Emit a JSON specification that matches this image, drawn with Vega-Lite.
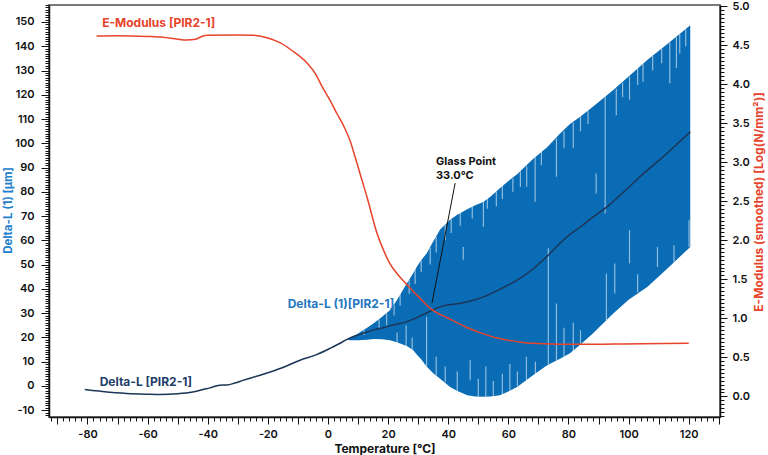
{
  "$schema": "https://vega.github.io/schema/vega-lite/v6.json",
  "width": 671,
  "height": 412,
  "autosize": {"type": "none"},
  "padding": {"left": 49, "top": 5, "right": 48, "bottom": 38},
  "background": "white",
  "config": {
    "font": "Inter",
    "view": {"stroke": "#4d4d4d", "strokeWidth": 1.5},
    "axis": {
      "grid": false,
      "domainColor": "#111",
      "domainWidth": 1.5,
      "tickColor": "#111",
      "tickWidth": 1,
      "labelFont": "Inter",
      "labelFontWeight": 600,
      "labelFontSize": 11,
      "labelColor": "#111",
      "labelOverlap": false,
      "labelBound": false,
      "labelFlush": false,
      "titleFont": "Inter",
      "titleFontWeight": 700,
      "titleFontSize": 12
    }
  },
  "datasets": {
    "band": [
      {"T": 6.2, "lo": 19.1, "hi": 19.1},
      {"T": 7.3, "lo": 18.8, "hi": 19.8},
      {"T": 10, "lo": 18.8, "hi": 21.6},
      {"T": 13, "lo": 19.0, "hi": 24},
      {"T": 15.1, "lo": 19.3, "hi": 25.7},
      {"T": 18, "lo": 19.2, "hi": 28.5},
      {"T": 20.6, "lo": 18.8, "hi": 31.2},
      {"T": 22.9, "lo": 18.0, "hi": 35.3},
      {"T": 26.2, "lo": 16.5, "hi": 42.2},
      {"T": 28.4, "lo": 14.7, "hi": 46.5},
      {"T": 29.5, "lo": 13.0, "hi": 49},
      {"T": 31, "lo": 11, "hi": 51.8},
      {"T": 32.8, "lo": 8, "hi": 54.6},
      {"T": 35, "lo": 5.2, "hi": 59.5},
      {"T": 37.3, "lo": 3.0, "hi": 64.5},
      {"T": 40.6, "lo": -0.4, "hi": 68.5},
      {"T": 42.9, "lo": -2.0, "hi": 70.5},
      {"T": 46.3, "lo": -3.8, "hi": 72.8},
      {"T": 49, "lo": -4.3, "hi": 74.5},
      {"T": 51.6, "lo": -4.5, "hi": 75.8},
      {"T": 54, "lo": -4.3, "hi": 78},
      {"T": 57.2, "lo": -3.8, "hi": 81.5},
      {"T": 60, "lo": -2.3, "hi": 84.5},
      {"T": 62.9, "lo": -0.4, "hi": 87.2},
      {"T": 68.2, "lo": 4.4, "hi": 93.5},
      {"T": 72.9, "lo": 8.5, "hi": 98.4},
      {"T": 77.2, "lo": 11.2, "hi": 104},
      {"T": 80.5, "lo": 13.5, "hi": 108},
      {"T": 83.9, "lo": 17, "hi": 110.9},
      {"T": 88, "lo": 21.5, "hi": 115},
      {"T": 94.8, "lo": 29.8, "hi": 121.9},
      {"T": 100, "lo": 35.5, "hi": 127.5},
      {"T": 106.2, "lo": 40.8, "hi": 134.3},
      {"T": 113, "lo": 48.5, "hi": 141},
      {"T": 120.5, "lo": 57.3, "hi": 148.7}
    ],
    "spikes": [
      {"T": 12, "top": 23, "bottom": 21},
      {"T": 17, "top": 27.5, "bottom": 24},
      {"T": 19.5, "top": 30, "bottom": 25},
      {"T": 22, "top": 33.5, "bottom": 29},
      {"T": 24, "top": 38, "bottom": 33},
      {"T": 27, "top": 44, "bottom": 38},
      {"T": 29, "top": 48, "bottom": 42},
      {"T": 31, "top": 51.8, "bottom": 47},
      {"T": 34, "top": 57, "bottom": 50},
      {"T": 36, "top": 61.5, "bottom": 55},
      {"T": 39, "top": 66.5, "bottom": 60},
      {"T": 41, "top": 68.8, "bottom": 63},
      {"T": 44, "top": 71.5, "bottom": 66},
      {"T": 45, "top": 57.3, "bottom": 52},
      {"T": 48, "top": 74, "bottom": 69},
      {"T": 51.7, "top": 76.6, "bottom": 65.6},
      {"T": 53, "top": 77.5, "bottom": 73},
      {"T": 56, "top": 80, "bottom": 74},
      {"T": 58, "top": 82.5, "bottom": 77},
      {"T": 61.5, "top": 85.5, "bottom": 80},
      {"T": 64, "top": 88.5, "bottom": 82},
      {"T": 66.1, "top": 90.5, "bottom": 82.1},
      {"T": 68.9, "top": 94.5, "bottom": 75.9},
      {"T": 71, "top": 96.5, "bottom": 91},
      {"T": 73.3, "top": 56.7, "bottom": 9},
      {"T": 76, "top": 102, "bottom": 86.2},
      {"T": 78.5, "top": 105, "bottom": 98},
      {"T": 81.6, "top": 108.5, "bottom": 98},
      {"T": 84, "top": 111, "bottom": 105},
      {"T": 86.5, "top": 113.5, "bottom": 108},
      {"T": 89.2, "top": 87.6, "bottom": 79.3},
      {"T": 92.2, "top": 119.3, "bottom": 71.1},
      {"T": 95.9, "top": 122.5, "bottom": 111.6},
      {"T": 98, "top": 125, "bottom": 119},
      {"T": 100.3, "top": 127.5, "bottom": 118},
      {"T": 103, "top": 131, "bottom": 124},
      {"T": 104.8, "top": 133, "bottom": 125.4},
      {"T": 108, "top": 136, "bottom": 130},
      {"T": 111, "top": 139, "bottom": 133},
      {"T": 113.7, "top": 141.5, "bottom": 124.7},
      {"T": 115.9, "top": 143.8, "bottom": 131},
      {"T": 117, "top": 145, "bottom": 137},
      {"T": 119, "top": 147, "bottom": 140},
      {"T": 23, "top": 22, "bottom": 18},
      {"T": 26, "top": 25, "bottom": 16.6},
      {"T": 28, "top": 20, "bottom": 15},
      {"T": 32.8, "top": 28.5, "bottom": 8},
      {"T": 36, "top": 12, "bottom": 4.3},
      {"T": 39, "top": 8, "bottom": 1.5},
      {"T": 43, "top": 6, "bottom": -2},
      {"T": 47.3, "top": 10.6, "bottom": 2.3},
      {"T": 50, "top": 3, "bottom": -4.4},
      {"T": 52.5, "top": 8, "bottom": -4.4},
      {"T": 55, "top": 2, "bottom": -4.2},
      {"T": 58, "top": 5, "bottom": -3.3},
      {"T": 60.5, "top": 9, "bottom": -2},
      {"T": 63, "top": 6, "bottom": 0},
      {"T": 66, "top": 12, "bottom": 2.5},
      {"T": 69, "top": 10, "bottom": 5},
      {"T": 76, "top": 34, "bottom": 10.5},
      {"T": 78.5, "top": 24, "bottom": 12},
      {"T": 81.6, "top": 26, "bottom": 13.8},
      {"T": 84, "top": 23, "bottom": 17},
      {"T": 92.6, "top": 46.3, "bottom": 27.2},
      {"T": 95.4, "top": 50.5, "bottom": 38.1},
      {"T": 100.3, "top": 64.2, "bottom": 50.5},
      {"T": 103, "top": 46, "bottom": 38.5},
      {"T": 109.6, "top": 57.3, "bottom": 49},
      {"T": 115.1, "top": 58, "bottom": 51},
      {"T": 120.1, "top": 68.3, "bottom": 57.3}
    ],
    "deltaL": [
      {"T": -80.9, "v": -1.5},
      {"T": -75, "v": -2.3},
      {"T": -67, "v": -3.1},
      {"T": -60, "v": -3.4},
      {"T": -56, "v": -3.5},
      {"T": -50, "v": -3.2},
      {"T": -45, "v": -2.5},
      {"T": -39.3, "v": -0.8},
      {"T": -36, "v": 0.3},
      {"T": -33.6, "v": 0.4},
      {"T": -31, "v": 1.2},
      {"T": -28.3, "v": 2.3},
      {"T": -22.6, "v": 4.4},
      {"T": -15, "v": 7.6},
      {"T": -9.3, "v": 10.6},
      {"T": -4, "v": 12.8},
      {"T": 0.7, "v": 15.5},
      {"T": 4, "v": 17.6},
      {"T": 6.2, "v": 19.1},
      {"T": 9, "v": 20.6},
      {"T": 12, "v": 21.8},
      {"T": 15.1, "v": 23},
      {"T": 18.3, "v": 24},
      {"T": 22, "v": 25.2},
      {"T": 26.3, "v": 26.5},
      {"T": 30, "v": 28.4},
      {"T": 34.6, "v": 31.2},
      {"T": 38.3, "v": 33},
      {"T": 44, "v": 34.1},
      {"T": 48, "v": 35.2},
      {"T": 51.6, "v": 36.6},
      {"T": 57, "v": 39.7},
      {"T": 62.9, "v": 43.6},
      {"T": 68, "v": 48},
      {"T": 73.5, "v": 54.2},
      {"T": 77.2, "v": 58.8},
      {"T": 80, "v": 62},
      {"T": 83.9, "v": 65.5},
      {"T": 88, "v": 69.5},
      {"T": 92.8, "v": 73.8},
      {"T": 98, "v": 79.5},
      {"T": 103.8, "v": 86.2},
      {"T": 108, "v": 90.8},
      {"T": 112.8, "v": 95.9},
      {"T": 117, "v": 100.7},
      {"T": 120.5, "v": 104.7}
    ],
    "emod": [
      {"T": -77, "r": 4.615},
      {"T": -70, "r": 4.62},
      {"T": -60, "r": 4.61},
      {"T": -55, "r": 4.6},
      {"T": -50, "r": 4.575},
      {"T": -47, "r": 4.565},
      {"T": -44, "r": 4.575},
      {"T": -42, "r": 4.61},
      {"T": -40, "r": 4.625},
      {"T": -30, "r": 4.63},
      {"T": -25, "r": 4.625},
      {"T": -20, "r": 4.59},
      {"T": -16, "r": 4.53},
      {"T": -12, "r": 4.43},
      {"T": -7, "r": 4.27},
      {"T": -4, "r": 4.12},
      {"T": -2, "r": 3.97},
      {"T": 0.7, "r": 3.79},
      {"T": 3, "r": 3.62},
      {"T": 5, "r": 3.48},
      {"T": 7.3, "r": 3.28},
      {"T": 9, "r": 3.07},
      {"T": 10.6, "r": 2.86},
      {"T": 13, "r": 2.55},
      {"T": 16.3, "r": 2.09},
      {"T": 18.5, "r": 1.87},
      {"T": 20.6, "r": 1.70},
      {"T": 23, "r": 1.57},
      {"T": 26.3, "r": 1.43},
      {"T": 30, "r": 1.28},
      {"T": 34.6, "r": 1.11},
      {"T": 40, "r": 1.0},
      {"T": 46, "r": 0.885},
      {"T": 51, "r": 0.81},
      {"T": 57, "r": 0.74},
      {"T": 65, "r": 0.69},
      {"T": 72, "r": 0.672},
      {"T": 77, "r": 0.667},
      {"T": 85, "r": 0.666},
      {"T": 95, "r": 0.670},
      {"T": 105, "r": 0.674},
      {"T": 112, "r": 0.677},
      {"T": 120, "r": 0.680}
    ],
    "labels": [
      {"label": "E-Modulus [PIR2-1]", "series": "emod", "T": -56.3, "v": 149.7},
      {"label": "Delta-L [PIR2-1]", "series": "deltaL", "T": -60.6, "v": 1.65},
      {"label": "Delta-L (1)[PIR2-1]", "series": "deltaL1", "T": 4.3, "v": 33.9}
    ],
    "glass": [
      {"label": "Glass Point", "T": 35.9, "v": 92.3},
      {"label": "33.0°C", "T": 35.9, "v": 86.7}
    ],
    "pointer": [
      {"T": 42.3, "v1": 83.6, "T2": 34.6, "v2": 34.1}
    ]
  },
  "resolve": {"scale": {"y": "independent"}},
  "encoding": {
    "x": {
      "field": "T", "type": "quantitative",
      "scale": {"domain": [-92.8, 130.4], "nice": false, "zero": false},
      "axis": {
        "title": "Temperature [°C]",
        "titleColor": "#111",
        "titleY": 31,
        "titleBaseline": "middle",
        "values": [-92,-90,-88,-86,-84,-82,-80,-78,-76,-74,-72,-70,-68,-66,-64,-62,-60,-58,-56,-54,-52,-50,-48,-46,-44,-42,-40,-38,-36,-34,-32,-30,-28,-26,-24,-22,-20,-18,-16,-14,-12,-10,-8,-6,-4,-2,0,2,4,6,8,10,12,14,16,18,20,22,24,26,28,30,32,34,36,38,40,42,44,46,48,50,52,54,56,58,60,62,64,66,68,70,72,74,76,78,80,82,84,86,88,90,92,94,96,98,100,102,104,106,108,110,112,114,116,118,120,122,124,126,128,130],
        "labelExpr": "datum.value % 20 === 0 ? toString(datum.value) : ''",
        "tickSize": {"condition": {"test": "datum.value % 10 === 0", "value": 7}, "value": 4},
        "labelPadding": 4
      }
    }
  },
  "layer": [
    {
      "data": {"name": "band"},
      "mark": {"type": "area", "color": "#0a6cb5", "opacity": 1},
      "encoding": {
        "y": {
          "field": "hi", "type": "quantitative",
          "scale": {"domain": [-12.8, 157], "nice": false, "zero": false},
          "axis": {
            "title": "Delta-L (1) [µm]",
            "titleColor": "#1f80cc",
            "titleFontSize": 11.5,
            "titleAngle": 270,
            "titleX": -41,
            "titleY": 205,
            "titleAlign": "center",
            "titleBaseline": "middle",
            "values": [-12,-11,-10,-9,-8,-7,-6,-5,-4,-3,-2,-1,0,1,2,3,4,5,6,7,8,9,10,11,12,13,14,15,16,17,18,19,20,21,22,23,24,25,26,27,28,29,30,31,32,33,34,35,36,37,38,39,40,41,42,43,44,45,46,47,48,49,50,51,52,53,54,55,56,57,58,59,60,61,62,63,64,65,66,67,68,69,70,71,72,73,74,75,76,77,78,79,80,81,82,83,84,85,86,87,88,89,90,91,92,93,94,95,96,97,98,99,100,101,102,103,104,105,106,107,108,109,110,111,112,113,114,115,116,117,118,119,120,121,122,123,124,125,126,127,128,129,130,131,132,133,134,135,136,137,138,139,140,141,142,143,144,145,146,147,148,149,150,151,152,153,154,155,156,157],
            "labelExpr": "datum.value % 10 === 0 ? toString(datum.value) : ''",
            "tickSize": {"condition": {"test": "datum.value % 10 === 0", "value": 8}, "value": 4},
            "labelPadding": 7
          }
        },
        "y2": {"field": "lo"}
      }
    },
    {
      "data": {"name": "spikes"},
      "mark": {"type": "rule", "color": "white", "opacity": 0.55, "strokeWidth": 1.2},
      "encoding": {
        "y": {"field": "top", "type": "quantitative", "scale": {"domain": [-12.8, 157], "nice": false, "zero": false}, "axis": null},
        "y2": {"field": "bottom"}
      }
    },
    {
      "data": {"name": "deltaL"},
      "mark": {"type": "line", "color": "#1c3658", "strokeWidth": 1.5, "interpolate": "monotone"},
      "encoding": {
        "y": {"field": "v", "type": "quantitative", "scale": {"domain": [-12.8, 157], "nice": false, "zero": false}, "axis": null}
      }
    },
    {
      "data": {"name": "emod"},
      "mark": {"type": "line", "color": "#e8432b", "strokeWidth": 1.5, "interpolate": "monotone"},
      "encoding": {
        "y": {
          "field": "r", "type": "quantitative",
          "scale": {"domain": [-0.265, 5.013], "nice": false, "zero": false},
          "axis": {
            "orient": "right",
            "title": "E-Modulus (smoothed) [Log(N/mm²)]",
            "titleColor": "#e8432b",
            "titleAngle": 270,
            "titleX": 38,
            "titleY": 196.5,
            "titleAlign": "center",
            "titleBaseline": "middle",
            "values": [-0.25,-0.2,-0.15,-0.1,-0.05,0,0.05,0.1,0.15,0.2,0.25,0.3,0.35,0.4,0.45,0.5,0.55,0.6,0.65,0.7,0.75,0.8,0.85,0.9,0.95,1,1.05,1.1,1.15,1.2,1.25,1.3,1.35,1.4,1.45,1.5,1.55,1.6,1.65,1.7,1.75,1.8,1.85,1.9,1.95,2,2.05,2.1,2.15,2.2,2.25,2.3,2.35,2.4,2.45,2.5,2.55,2.6,2.65,2.7,2.75,2.8,2.85,2.9,2.95,3,3.05,3.1,3.15,3.2,3.25,3.3,3.35,3.4,3.45,3.5,3.55,3.6,3.65,3.7,3.75,3.8,3.85,3.9,3.95,4,4.05,4.1,4.15,4.2,4.25,4.3,4.35,4.4,4.45,4.5,4.55,4.6,4.65,4.7,4.75,4.8,4.85,4.9,4.95,5],
            "labelExpr": "abs(round(datum.value * 100)) % 50 === 0 ? format(datum.value, '.1f') : ''",
            "tickSize": {"condition": {"test": "abs(round(datum.value * 100)) % 50 === 0", "value": 7}, "value": 4},
            "labelPadding": 5
          }
        }
      }
    },
    {
      "data": {"name": "pointer"},
      "mark": {"type": "rule", "color": "#111", "strokeWidth": 1},
      "encoding": {
        "x2": {"field": "T2"},
        "y": {"field": "v1", "type": "quantitative", "scale": {"domain": [-12.8, 157], "nice": false, "zero": false}, "axis": null},
        "y2": {"field": "v2"}
      }
    },
    {
      "data": {"name": "labels"},
      "mark": {"type": "text", "align": "center", "baseline": "middle", "fontSize": 12, "fontWeight": 700, "font": "Inter"},
      "encoding": {
        "y": {"field": "v", "type": "quantitative", "scale": {"domain": [-12.8, 157], "nice": false, "zero": false}, "axis": null},
        "text": {"field": "label"},
        "color": {"field": "series", "type": "nominal", "scale": {"domain": ["emod", "deltaL", "deltaL1"], "range": ["#e8432b", "#22406a", "#2377c0"]}, "legend": null}
      }
    },
    {
      "data": {"name": "glass"},
      "mark": {"type": "text", "align": "left", "baseline": "middle", "fontSize": 11, "fontWeight": 700, "font": "Inter", "color": "#111"},
      "encoding": {
        "y": {"field": "v", "type": "quantitative", "scale": {"domain": [-12.8, 157], "nice": false, "zero": false}, "axis": null},
        "text": {"field": "label"}
      }
    }
  ]
}
